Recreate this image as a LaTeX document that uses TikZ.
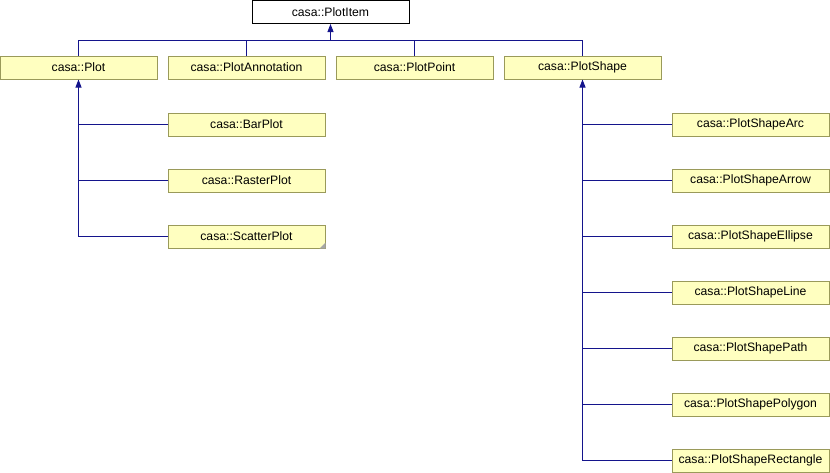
\documentclass[tikz,border=0pt]{standalone}
\usepackage{fontspec}
\setmainfont{Liberation Sans}
\usetikzlibrary{arrows.meta}
\definecolor{boxfill}{RGB}{255,255,192}
\definecolor{boxline}{RGB}{154,154,90}
\definecolor{edgeblue}{RGB}{20,20,140}

\begin{document}
\begin{tikzpicture}[x=1pt, y=-1pt,
    cls/.style={draw=boxline, fill=boxfill, line width=1pt, minimum width=157pt, minimum height=23pt, inner sep=0pt, font=\fontsize{12.2}{14}\selectfont},
    base/.style={cls, draw=black, fill=white},
    edge/.style={draw=edgeblue, line width=1pt},
    inh/.style={edge, -{Triangle[length=8pt, width=6pt]}}]
    \useasboundingbox (0,0) rectangle (830,472);

    \node[base] (item) at (330.5,12) {casa::PlotItem};

    \node[cls] (plot)  at (78.5,67.5)  {casa::Plot};
    \node[cls] (annot) at (246.5,67.5) {casa::PlotAnnotation};
    \node[cls] (point) at (414.5,67.5) {casa::PlotPoint};
    \node[cls] (shape) at (582.5,67.5) {casa::PlotShape};

    \node[cls] (bar)     at (246.5,124.5) {casa::BarPlot};
    \node[cls] (raster)  at (246.5,180.5) {casa::RasterPlot};
    \node[cls] (scatter) at (246.5,236.5) {casa::ScatterPlot};
    \fill[gray!70] (scatter.south east) -- ++(-6,0) -- ++(6,-6) -- cycle;

    \node[cls] (arc)     at (750.5,124.5) {casa::PlotShapeArc};
    \node[cls] (arrow)   at (750.5,180.5) {casa::PlotShapeArrow};
    \node[cls] (ellipse) at (750.5,236.5) {casa::PlotShapeEllipse};
    \node[cls] (line)    at (750.5,292.5) {casa::PlotShapeLine};
    \node[cls] (path)    at (750.5,348.5) {casa::PlotShapePath};
    \node[cls] (polygon) at (750.5,404.5) {casa::PlotShapePolygon};
    \node[cls] (rect)    at (750.5,460.5) {casa::PlotShapeRectangle};

    % bus to the base class
    \coordinate (bus) at (330.5,40);
    \draw[edge] (plot.north) |- (bus);
    \draw[edge] (annot.north) |- (bus);
    \draw[edge] (point.north) |- (bus);
    \draw[edge] (shape.north) |- (bus);
    \draw[inh] (bus) -- (item.south);

    % children of Plot
    \draw[inh] (scatter.west) -| (plot.south);
    \foreach \c in {bar, raster}
        \draw[edge] (\c.west) -- (\c.west -| plot.south);

    % children of PlotShape
    \draw[inh] (rect.west) -| (shape.south);
    \foreach \c in {arc, arrow, ellipse, line, path, polygon}
        \draw[edge] (\c.west) -- (\c.west -| shape.south);
\end{tikzpicture}
\end{document}
